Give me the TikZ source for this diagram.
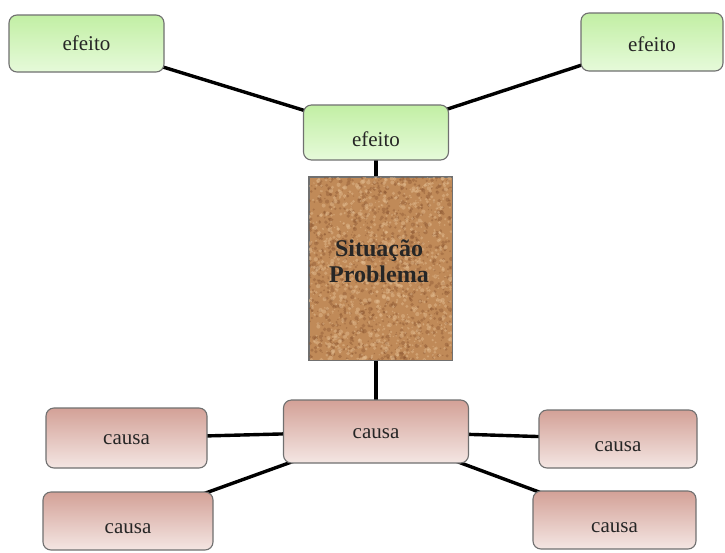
\documentclass[tikz,border=0pt]{standalone}
\usepackage{fontspec}
\setmainfont{Liberation Serif}
\usetikzlibrary{backgrounds}
\definecolor{bordergray}{HTML}{707070}
\definecolor{greentop}{HTML}{C2EFA4}
\definecolor{greenbot}{HTML}{E6FADA}
\definecolor{redtop}{HTML}{D3A197}
\definecolor{redbot}{HTML}{F4E6E3}
\definecolor{cork}{HTML}{C08A58}
\definecolor{corkdark}{HTML}{8A5530}
\definecolor{corklight}{HTML}{E4BE92}
\definecolor{txt}{HTML}{262626}
\newcommand{\lowtxt}[2]{\smash{\raisebox{-#1pt}{#2}}}
\tikzset{
  box/.style={draw=bordergray, line width=1.1pt, rounded corners=8pt, text=txt,
    font=\fontsize{21}{24}\selectfont, inner sep=0pt},
  efeitobox/.style={box, top color=greentop, bottom color=greenbot},
  causabox/.style={box, top color=redtop, bottom color=redbot},
  link/.style={line width=3.4pt, black},
}
\begin{document}
\begin{tikzpicture}[x=1pt,y=-1pt]
\useasboundingbox (0,0) rectangle (725,552);
% efeito nodes
\node[efeitobox, minimum width=155pt, minimum height=57pt] (e1) at (86.5,43.5) {\lowtxt{7}{efeito}};
\node[efeitobox, minimum width=142pt, minimum height=58pt] (e2) at (652,42) {\lowtxt{9}{efeito}};
\node[efeitobox, minimum width=145pt, minimum height=55pt] (e0) at (376,132.5) {\lowtxt{14}{efeito}};
% situacao box
\node[draw=bordergray, fill=cork, line width=1pt, minimum width=143pt, minimum height=183pt, inner sep=0pt] (sp) at (380.5,268.5) {};
\begin{scope}
  \clip (sp.south west) rectangle (sp.north east);
  \pgfmathsetseed{7}
  \foreach \i in {1,...,1100} {
    \pgfmathsetmacro\px{309+143*rnd}
    \pgfmathsetmacro\py{177+183*rnd}
    \pgfmathsetmacro\pr{0.6+1.6*rnd}
    \fill[corkdark, opacity=0.4] (\px,\py) circle (\pr);
  }
  \foreach \i in {1,...,1100} {
    \pgfmathsetmacro\px{309+143*rnd}
    \pgfmathsetmacro\py{177+183*rnd}
    \pgfmathsetmacro\pr{0.6+1.6*rnd}
    \fill[corklight, opacity=0.45] (\px,\py) circle (\pr);
  }
\end{scope}
\draw[bordergray, line width=1pt] (sp.south west) rectangle (sp.north east);
\node[font=\fontsize{24}{26}\selectfont\bfseries, text=black!85, align=center] (sptext) at (379,261) {Situação\\Problema};
% causa nodes
\node[causabox, minimum width=185pt, minimum height=63pt] (c0) at (376,431.5) {\lowtxt{6.5}{causa}};
\node[causabox, minimum width=161pt, minimum height=60pt] (c1) at (126.5,438) {\lowtxt{6}{causa}};
\node[causabox, minimum width=170pt, minimum height=58pt] (c2) at (128,521) {\lowtxt{12}{causa}};
\node[causabox, minimum width=158pt, minimum height=58pt] (c3) at (618,439) {\lowtxt{12}{causa}};
\node[causabox, minimum width=163pt, minimum height=58pt] (c4) at (614.5,520) {\lowtxt{12}{causa}};
% connectors
\begin{scope}[on background layer]
  \fill[white] (0,0) rectangle (725,552);
  \draw[link] (e1.center) -- (e0.center);
  \draw[link] (e2.center) -- (e0.center);
  \draw[link] (e0.center) -- (e0.center |- sp.north);
  \draw[link] (c0.center |- sp.south) -- (c0.center);
  \draw[link] (c0.center) -- (c1.center);
  \draw[link] (c0.center) -- (c2.center);
  \draw[link] (c0.center) -- (c3.center);
  \draw[link] (c0.center) -- (c4.center);
\end{scope}
\end{tikzpicture}
\end{document}
